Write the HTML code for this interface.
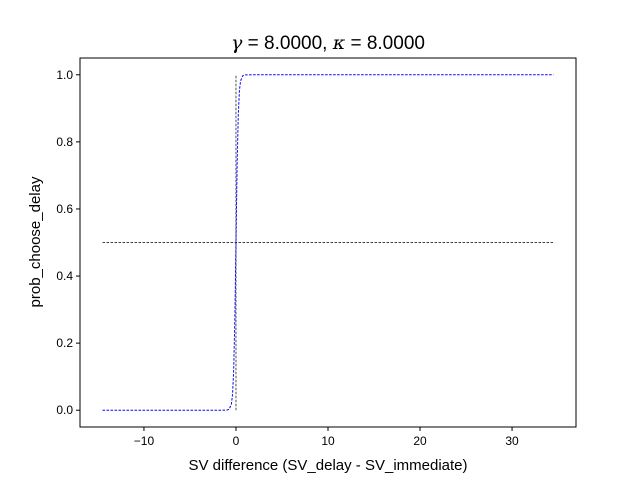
<!DOCTYPE html>
<html><head><meta charset="utf-8"><style>
body{margin:0;background:#fff;}
svg{display:block;font-family:"Liberation Sans","DejaVu Sans",sans-serif;}
</style></head><body>
<svg id="chart" width="640" height="480">
<rect width="640" height="480" fill="#fff"/>
<text x="328" y="49" text-anchor="middle" font-size="19"><tspan font-family="DejaVu Serif, serif" font-style="italic">γ</tspan> = 8.0000, <tspan font-family="DejaVu Serif, serif" font-style="italic">κ</tspan> = 8.0000</text>
<g id="plot"></g>
<rect x="80" y="58" width="496" height="369" fill="none" stroke="#000" stroke-width="1"/>
<g id="axes"></g>
<text x="328" y="470" text-anchor="middle" font-size="15">SV difference (SV_delay - SV_immediate)</text>
<text transform="translate(40,242) rotate(-90)" text-anchor="middle" font-size="15">prob_choose_delay</text>
</svg>
<script>
const xs=[-14.5,-2,-1,-0.75,-0.5,-0.375,-0.25,-0.125,0,0.125,0.25,0.375,0.5,0.75,1,2,34.5];
const ys=[0,0,0.0003,0.0025,0.018,0.047,0.119,0.269,0.5,0.731,0.881,0.953,0.982,0.9975,0.9997,1,1];
const xTicks=[-10,0,10,20,30];
const yTicks=[0,0.2,0.4,0.6,0.8,1.0];
const xMin=-16.95,xMax=36.95,yMin=-0.05,yMax=1.05;
const L=80,R=576,T=58,B=427;
const sx=v=>L+(v-xMin)/(xMax-xMin)*(R-L);
const sy=v=>B-(v-yMin)/(yMax-yMin)*(B-T);
const NS="http://www.w3.org/2000/svg";
const plot=document.getElementById('plot'),axes=document.getElementById('axes');
function mk(tag,attrs,parent){const e=document.createElementNS(NS,tag);for(const k in attrs)e.setAttribute(k,attrs[k]);parent.appendChild(e);return e;}
let h=mk('line',{x1:sx(xs[0]),x2:sx(xs[xs.length-1]),y1:sy(0.5),y2:sy(0.5),stroke:'#000','stroke-width':0.7,'stroke-dasharray':'2.5,1.5'},plot);


let v=mk('line',{x1:sx(0),x2:sx(0),y1:sy(0),y2:sy(1),stroke:'#000','stroke-width':0.7,'stroke-dasharray':'2.5,1.5'},plot);


let p=mk('polyline',{points:xs.map((x,i)=>sx(x)+','+sy(ys[i])).join(' '),fill:'none',stroke:'#0000ff','stroke-width':1,'stroke-dasharray':'2.5,1.5'},plot);


xTicks.forEach(t=>{const x=sx(t);
 let l=mk('line',{x1:x,x2:x,y1:B,y2:B+4,stroke:'#000'},axes);
 
 
 let s=mk('text',{x:x,y:B+18,'text-anchor':'middle','font-size':12},axes);s.textContent=(t<0?'\u2212'+(-t):t);
 
 });
yTicks.forEach(t=>{const y=sy(t);
 let l=mk('line',{x1:L-4,x2:L,y1:y,y2:y,stroke:'#000'},axes);
 
 
 let s=mk('text',{x:L-7,y:y+4,'text-anchor':'end','font-size':12},axes);s.textContent=t.toFixed(1);
 
 });
</script>
</body></html>
